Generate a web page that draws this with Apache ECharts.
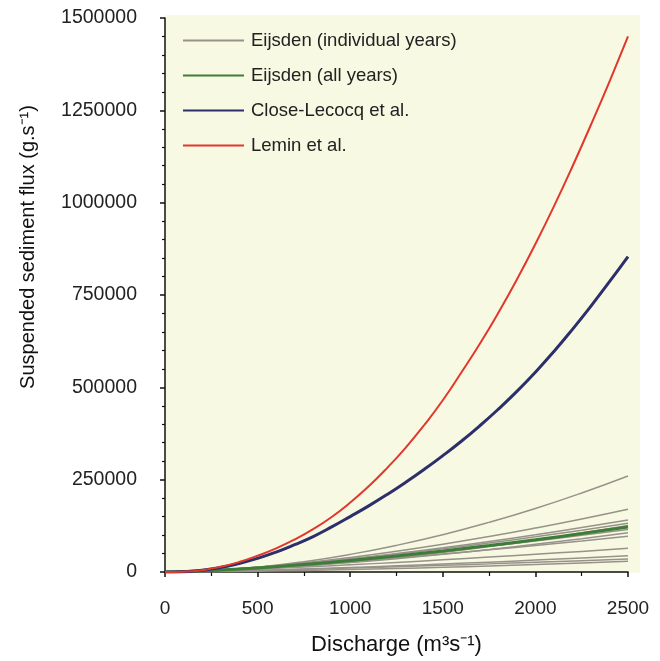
<!DOCTYPE html>
<html>
<head>
<meta charset="utf-8">
<script src="https://cdn.jsdelivr.net/npm/echarts@6/dist/echarts.min.js"></script>
<style>
html,body{margin:0;padding:0;background:#fff;}
#chart{width:660px;height:661px;}
</style>
</head>
<body>
<div id="chart"></div>
<script>
// Discharge values (m3/s)
const xCoarse = [0, 250, 500, 750, 1000, 1250, 1500, 1750, 2000, 2250, 2500];
const xFine = [0, 100, 200, 300, 400, 500, 600, 700, 800, 900, 1000, 1100, 1200, 1300, 1400, 1500, 1600, 1700, 1800, 1900, 2000, 2100, 2200, 2300, 2400, 2500];

// Eijsden individual years (at xCoarse)
const year1  = [0, 3700, 13200, 28000, 47700, 72100, 101000, 134400, 172000, 214000, 260000];
const year2  = [0, 4300, 12900, 24800, 39200, 56100, 75100, 96100, 119000, 143600, 170000];
const year3  = [0, 4500, 12600, 23200, 35700, 49900, 65500, 82600, 100900, 120400, 141000];
const year4  = [0, 4700, 12800, 23000, 35000, 48300, 62900, 78700, 95500, 113300, 132000];
const year5  = [0, 2500, 8200, 16200, 26500, 38800, 52800, 68700, 86200, 105300, 126000];
const year6  = [0, 4600, 12100, 21300, 31900, 43600, 56200, 69800, 84100, 99200, 115000];
const year7  = [0, 3000, 8800, 16400, 25600, 36200, 48000, 61000, 75000, 90000, 106000];
const year8  = [0, 4300, 11000, 19100, 28200, 38100, 48700, 59900, 71800, 84100, 97000];
const year9  = [0, 3200, 7900, 13400, 19500, 26000, 32900, 40300, 47900, 55800, 64000];
const year10 = [0, 1750, 4600, 8200, 12200, 16700, 21500, 26700, 32200, 38000, 44000];
const year11 = [0, 1750, 4300, 7300, 10600, 14200, 18000, 22000, 26200, 30500, 35000];
const year12 = [0, 730, 2200, 4200, 6700, 9600, 12800, 16400, 20300, 24500, 29000];

// Eijsden all years (at xCoarse)
const allYears = [0, 4000, 11100, 20300, 31100, 43400, 57000, 71700, 87500, 104300, 122000];

// Close-Lecocq et al. (at xFine)
const closeLecocq = [0, 800, 5000, 12000, 23000, 37000, 54000, 74000, 96000, 122000, 150000, 179000, 210000, 243000, 278000, 315000, 354000, 396000, 441000, 489000, 541000, 597000, 657000, 720000, 786000, 854000];

// Lemin et al. (at xFine)
const lemin = [0, 1000, 5000, 14000, 27000, 44000, 64000, 88000, 116000, 149000, 188000, 232000, 282000, 337000, 398000, 465000, 540000, 618000, 702000, 792000, 888000, 990000, 1098000, 1211000, 1328000, 1450000];

// Tick labels
const xTicks = [0, 500, 1000, 1500, 2000, 2500];
const yTicks = [0, 250000, 500000, 750000, 1000000, 1250000, 1500000];

const names = ['Eijsden (individual years)', 'Eijsden (all years)', 'Close-Lecocq et al.', 'Lemin et al.'];
const yearly = [year1, year2, year3, year4, year5, year6, year7, year8, year9, year10, year11, year12];

function pairs(xs, ys) { return xs.map((x, i) => [x, ys[i]]); }

const series = [];
yearly.forEach(ys => {
  series.push({
    name: names[0], type: 'line', symbol: 'none', smooth: true,
    data: pairs(xCoarse, ys),
    lineStyle: { color: '#97928a', width: 1.5 }, itemStyle: { color: '#97928a' }, z: 2
  });
});
series.push({
  name: names[1], type: 'line', symbol: 'none', smooth: true,
  data: pairs(xCoarse, allYears),
  lineStyle: { color: '#3c7d38', width: 3 }, itemStyle: { color: '#3c7d38' }, z: 3
});
series.push({
  name: names[2], type: 'line', symbol: 'none', smooth: true,
  data: pairs(xFine, closeLecocq),
  lineStyle: { color: '#2d2f6a', width: 3 }, itemStyle: { color: '#2d2f6a' }, z: 4
});
series.push({
  name: names[3], type: 'line', symbol: 'none', smooth: true,
  data: pairs(xFine, lemin),
  lineStyle: { color: '#e2382c', width: 2 }, itemStyle: { color: '#e2382c' }, z: 5
});

const chart = echarts.init(document.getElementById('chart'), null, { renderer: 'canvas' });
const font = 'Liberation Sans, Arial, sans-serif';
chart.setOption({
  animation: false,
  backgroundColor: '#ffffff',
  graphic: [{
    type: 'rect', z: -10, silent: true,
    shape: { x: 165, y: 15, width: 475, height: 558 },
    style: { fill: '#f8f9e3' }
  }],
  grid: { left: 165, right: 32, top: 18, bottom: 88, containLabel: false },
  legend: {
    data: names,
    orient: 'vertical',
    left: 177, top: 26,
    itemWidth: 61, itemHeight: 14, itemGap: 16,
    itemStyle: { opacity: 0 },
    textStyle: { fontFamily: font, fontSize: 18.5, color: '#222', padding: [0, 0, 0, 2] }
  },
  xAxis: {
    type: 'value', min: 0, max: 2500, interval: 500,
    name: 'Discharge (m³s⁻¹)', nameLocation: 'middle', nameGap: 62,
    nameTextStyle: { fontFamily: font, fontSize: 22, color: '#111' },
    axisLine: { show: true, lineStyle: { color: '#111', width: 1.5 } },
    axisTick: { show: true, inside: false, length: 5, lineStyle: { color: '#111', width: 1.5 } },
    minorTick: { show: true, splitNumber: 2, length: 4, lineStyle: { color: '#111', width: 1.2 } },
    splitLine: { show: false },
    axisLabel: {
      fontFamily: font, fontSize: 19, color: '#222', margin: 27,
      formatter: v => (xTicks.indexOf(v) >= 0 ? String(v) : '')
    }
  },
  yAxis: {
    type: 'value', min: 0, max: 1500000, interval: 250000,
    name: 'Suspended sediment flux (g.s⁻¹)', nameLocation: 'middle', nameGap: 127, nameRotate: 90,
    nameTextStyle: { fontFamily: font, fontSize: 20, color: '#111', padding: [0, 0, 0, 96] },
    axisLine: { show: true, lineStyle: { color: '#111', width: 1.5 } },
    axisTick: { show: true, inside: false, length: 5, lineStyle: { color: '#111', width: 1.5 } },
    minorTick: { show: true, splitNumber: 5, length: 3, lineStyle: { color: '#111', width: 1.2 } },
    splitLine: { show: false },
    axisLabel: {
      fontFamily: font, fontSize: 19.5, color: '#222', margin: 28,
      formatter: v => (yTicks.indexOf(v) >= 0 ? String(v) : '')
    }
  },
  series: series
});
</script>
</body>
</html>
